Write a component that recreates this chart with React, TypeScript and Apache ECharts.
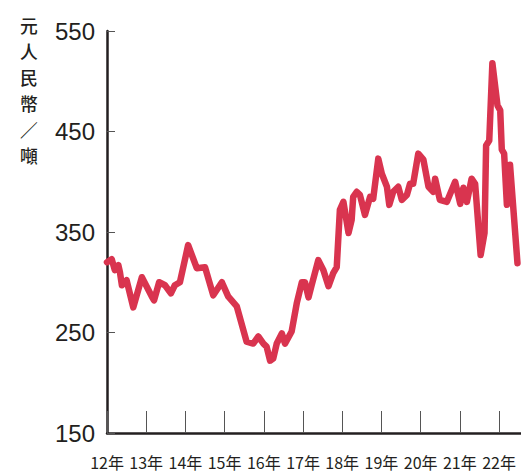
import React, { useEffect, useRef } from "react";
import * as echarts from "echarts";

// decimal year positions and price (元人民幣/噸)
const years: number[] = [
  2012.0, 2012.12, 2012.2, 2012.29, 2012.33, 2012.38, 2012.5, 2012.67, 2012.89,
  2013.14, 2013.2, 2013.33, 2013.48, 2013.63, 2013.73, 2013.86,
  2014.07, 2014.29, 2014.5, 2014.71, 2014.93,
  2015.09, 2015.31, 2015.56, 2015.73, 2015.86, 2015.99,
  2016.07, 2016.16, 2016.24, 2016.33, 2016.46, 2016.54, 2016.71, 2016.84, 2016.97,
  2017.05, 2017.14, 2017.22, 2017.39, 2017.52, 2017.65, 2017.77, 2017.86, 2017.94,
  2018.03, 2018.16, 2018.24, 2018.28, 2018.37, 2018.45, 2018.58, 2018.71, 2018.79, 2018.92,
  2019.01, 2019.14, 2019.2, 2019.3, 2019.43, 2019.52, 2019.65, 2019.73, 2019.81, 2019.94,
  2020.07, 2020.2, 2020.32, 2020.37, 2020.49, 2020.67, 2020.88,
  2021.01, 2021.09, 2021.18, 2021.3, 2021.39, 2021.53, 2021.63, 2021.67, 2021.75, 2021.83, 2021.96,
  2022.03, 2022.07, 2022.13, 2022.2, 2022.28, 2022.47,
];
const prices: number[] = [
  320, 323, 312, 317, 310, 297, 302, 275, 305,
  286, 282, 300, 297, 289, 297, 300,
  337, 314, 315, 287, 300,
  286, 276, 241, 239, 246, 239,
  236, 222, 224, 239, 249, 239, 251, 279, 300,
  300, 285, 297, 322, 312, 296, 309, 315, 372,
  380, 349, 362, 385, 390, 387, 367, 385, 383, 423,
  408, 395, 377, 390, 395, 382, 387, 398, 398, 428,
  422, 395, 390, 403, 382, 380, 400,
  378, 394, 380, 403, 398, 327, 349, 436, 441, 518, 476,
  471, 432, 428, 377, 417, 319,
];
const yearTicks: number[] = [2012, 2013, 2014, 2015, 2016, 2017, 2018, 2019, 2020, 2021, 2022];
const yTicks: number[] = [150, 250, 350, 450, 550];
const unitChars: string[] = ["元", "人", "民", "幣", "／", "噸"];

export default function App() {
  const ref = useRef<HTMLDivElement>(null);
  useEffect(() => {
    if (!ref.current) return;
    const chart = echarts.init(ref.current, null, { renderer: "svg" });
    const data = years.map((y, i) => [y, prices[i]]);
    chart.setOption({
      animation: false,
      backgroundColor: "#ffffff",
      grid: { left: 107, right: 0, top: 31, bottom: 41, containLabel: false },
      xAxis: {
        type: "value",
        min: 2012,
        max: 2022.56,
        interval: 1,
        splitLine: { show: false },
        axisLine: { show: true, lineStyle: { color: "#231f20", width: 2.5 } },
        axisTick: {
          show: true,
          inside: true,
          length: 22,
          lineStyle: { color: "#555", width: 1 },
          customValues: yearTicks,
        },
        axisLabel: {
          customValues: yearTicks,
          formatter: (v: number) => `${String(Math.round(v)).slice(2)}年`,
          fontFamily: '"Liberation Sans Narrow", "Noto Sans CJK JP", sans-serif',
          fontSize: 16,
          color: "#231f20",
          margin: 21,
        },
      },
      yAxis: {
        type: "value",
        min: 150,
        max: 550,
        interval: 100,
        splitLine: { show: false },
        axisLine: { show: true, lineStyle: { color: "#231f20", width: 2.5 } },
        axisTick: {
          show: true,
          inside: true,
          length: 8,
          lineStyle: { color: "#555", width: 1 },
          customValues: yTicks,
        },
        axisLabel: {
          customValues: yTicks,
          fontFamily: '"Liberation Sans", Arial, sans-serif',
          fontSize: 24,
          color: "#231f20",
          margin: 12,
        },
      },
      graphic: unitChars.map((ch, i) => ({
        type: "text",
        left: 20,
        top: 16 + i * 26,
        style: {
          text: ch,
          fontFamily: '"Noto Sans CJK TC", "Noto Sans CJK JP", sans-serif',
          fontSize: 17.8,
          fontWeight: 500,
          fill: "#231f20",
        },
      })),
      series: [
        {
          type: "line",
          data,
          showSymbol: false,
          symbol: "none",
          lineStyle: { color: "#d9344f", width: 6.5, cap: "round", join: "round" },
          z: 3,
        },
      ],
    });
    return () => chart.dispose();
  }, []);
  return (
    <div
      ref={ref}
      style={{ position: "absolute", left: 0, top: 0, width: 521, height: 474 }}
    />
  );
}
